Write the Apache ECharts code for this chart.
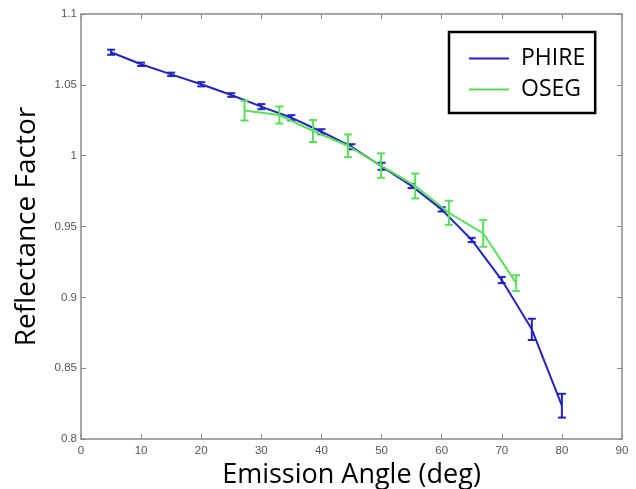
<!DOCTYPE html>
<html><head><meta charset="utf-8">
<script src="https://cdn.jsdelivr.net/npm/echarts@6/dist/echarts.min.js"></script>
<style>html,body{margin:0;padding:0;background:#fff}#c{width:636px;height:489px}</style>
</head><body><div id="c"></div>
<script>
const xTicks = [0,10,20,30,40,50,60,70,80,90];
const yTicks = [0.8,0.85,0.9,0.95,1,1.05,1.1];
const phireX = [5,10,15,20,25,30,35,40,45,50,55,60,65,70,75,80];
const phireY = [1.073,1.0645,1.0574,1.0504,1.0428,1.0346,1.0268,1.0169,1.0063,0.9925,0.9786,0.9621,0.9405,0.9122,0.8774,0.8235];
const phireErr = [0.0018,0.0012,0.0012,0.0015,0.0013,0.0018,0.0018,0.0018,0.0018,0.0025,0.0015,0.0015,0.0015,0.0022,0.0075,0.0084];
const osegX = [27.2,33.0,38.6,44.4,49.9,55.6,61.2,66.9,72.4];
const osegY = [1.0318,1.0287,1.0174,1.007,0.993,0.9786,0.9597,0.9452,0.910];
const osegErr = [0.007,0.006,0.0078,0.008,0.0086,0.0088,0.0085,0.0095,0.0056];

const blue = '#2424c4', green = '#58e058';
function pairs(xs, ys){ return xs.map((x,i)=>[x, ys[i]]); }
function errData(xs, ys, es){ return xs.map((x,i)=>[x, ys[i]-es[i], ys[i]+es[i]]); }
function errRender(color){
  return function(params, api){
    const x = api.value(0);
    const lo = api.coord([x, api.value(1)]);
    const hi = api.coord([x, api.value(2)]);
    const w = 4;
    const st = {stroke: color, lineWidth: 2};
    return {type:'group', children:[
      {type:'line', shape:{x1:lo[0],y1:lo[1],x2:hi[0],y2:hi[1]}, style:st},
      {type:'line', shape:{x1:lo[0]-w,y1:lo[1],x2:lo[0]+w,y2:lo[1]}, style:st},
      {type:'line', shape:{x1:hi[0]-w,y1:hi[1],x2:hi[0]+w,y2:hi[1]}, style:st}
    ]};
  };
}
const axisCol = '#8a8a8a';
const chart = echarts.init(document.getElementById('c'), null, {renderer:'canvas'});
const tickLab = {color:'#555', fontFamily:'Liberation Sans, Arial', fontSize:11.5};
chart.setOption({
  animation:false,
  backgroundColor:'#fff',
  grid:{left:81, right:14, top:14, bottom:50, containLabel:false, outerBoundsMode:'none'},
  xAxis:[{
    type:'value', min:0, max:90, interval:10,
    axisLine:{show:true, onZero:false, lineStyle:{color:axisCol, width:1.5}},
    axisTick:{show:true, inside:true, length:5, lineStyle:{color:axisCol}},
    axisLabel:{...tickLab, margin:6},
    splitLine:{show:false},
    name:'Emission Angle (deg)', nameLocation:'middle', nameGap:23,
    nameTextStyle:{fontFamily:'Open Sans', fontSize:27, color:'#000'}
  },{
    type:'value', min:0, max:90, interval:10, position:'top',
    axisLine:{show:true, onZero:false, lineStyle:{color:axisCol, width:1.5}},
    axisTick:{show:true, inside:true, length:5, lineStyle:{color:axisCol}},
    axisLabel:{show:false}, splitLine:{show:false}
  }],
  yAxis:[{
    type:'value', min:0.8, max:1.1, interval:0.05,
    axisLine:{show:true, onZero:false, lineStyle:{color:axisCol, width:1.5}},
    axisTick:{show:true, inside:true, length:5, lineStyle:{color:axisCol}},
    axisLabel:{...tickLab, margin:4, formatter: v => String(+v.toFixed(2))},
    splitLine:{show:false},
    name:'Reflectance Factor', nameLocation:'middle', nameGap:40,
    nameTextStyle:{fontFamily:'Open Sans', fontSize:28, color:'#000'}
  },{
    type:'value', min:0.8, max:1.1, interval:0.05, position:'right',
    axisLine:{show:true, onZero:false, lineStyle:{color:axisCol, width:1.5}},
    axisTick:{show:true, inside:true, length:5, lineStyle:{color:axisCol}},
    axisLabel:{show:false}, splitLine:{show:false}
  }],
  legend:{
    left:449, top:32,
    orient:'vertical', itemGap:8, itemWidth:40, itemHeight:2,
    padding:[15,10,12,20],
    borderColor:'#000', borderWidth:2.5, backgroundColor:'#fff',
    icon:'rect',
    textStyle:{fontFamily:'Open Sans', fontSize:23, color:'#000', padding:[0,0,0,7]},
    data:[{name:'PHIRE', itemStyle:{color:blue}},{name:'OSEG', itemStyle:{color:green}}]
  },
  series:[
    {name:'PHIRE', type:'line', data:pairs(phireX, phireY), symbol:'none',
     lineStyle:{color:blue, width:2}, itemStyle:{color:blue}, z:3},
    {name:'PHIRE-err', type:'custom', data:errData(phireX, phireY, phireErr),
     renderItem:errRender(blue), encode:{x:0, y:[1,2]}, z:4},
    {name:'OSEG', type:'line', data:pairs(osegX, osegY), symbol:'none',
     lineStyle:{color:green, width:2}, itemStyle:{color:green}, z:5},
    {name:'OSEG-err', type:'custom', data:errData(osegX, osegY, osegErr),
     renderItem:errRender(green), encode:{x:0, y:[1,2]}, z:6}
  ]
});
</script></body></html>
